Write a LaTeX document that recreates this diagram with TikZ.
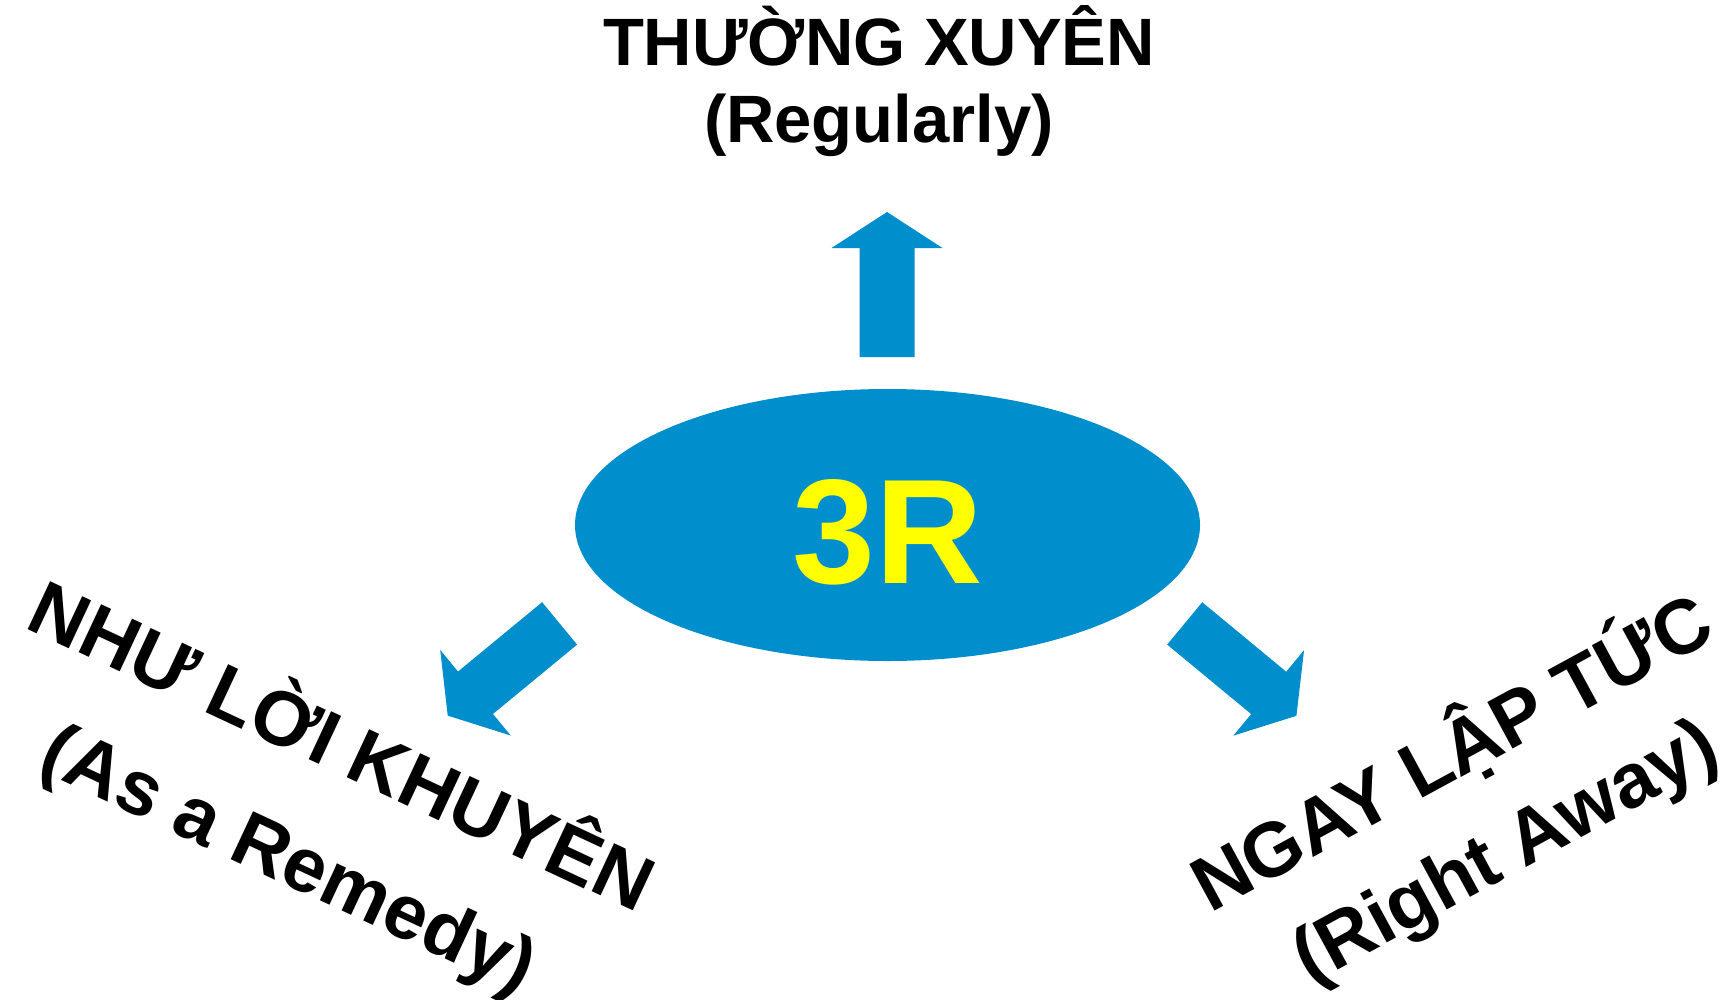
\documentclass[tikz,border=0pt]{standalone}
\usepackage{fontspec}
\setmainfont{Liberation Sans}
\usetikzlibrary{shapes.geometric}

\definecolor{capblue}{RGB}{0,142,204}
\definecolor{capyellow}{RGB}{255,255,0}

% block arrow: tail point, direction
\newcommand{\blockarrow}[2]{%
  \fill[capblue,shift={(#1)},rotate=#2] (0,27.5) -- (109,27.5) -- (109,55.5) -- (145,0)
    -- (109,-55.5) -- (109,-27.5) -- (0,-27.5) -- cycle;}

\begin{document}
\begin{tikzpicture}[x=1pt,y=-1pt,
    word/.style={inner sep=0pt,align=center,text=black},
    big/.style={font=\fontsize{67}{77}\selectfont\bfseries},
    slant/.style={font=\fontsize{77}{#1}\selectfont\bfseries}]

  \useasboundingbox (0,0) rectangle (1724,999);

  \node[ellipse,fill=capblue,minimum width=625pt,minimum height=272pt,inner sep=0pt,
        text=capyellow,text height=117pt,text depth=0pt,
        font=\fontsize{149}{170}\selectfont\bfseries] (core) at (887.5,525) {3R};

  \node[word,big] (regular) at (879,81) {THƯỜNG XUYÊN\\(Regularly)};
  \node[word,slant=123,rotate=-25] (remedy) at (316,802) {NHƯ LỜI KHUYÊN\\(As a Remedy)};
  \node[word,slant=110,rotate=28.5] (away) at (1478,801) {NGAY LẬP TỨC\\(Right Away)};

  \coordinate (uptail) at (887,357);
  \coordinate (lefttail) at (559.6,623.4);
  \coordinate (righttail) at (1184.7,623.4);

  \blockarrow{uptail}{90}
  \blockarrow{lefttail}{219.5}
  \blockarrow{righttail}{-39.6}

\end{tikzpicture}
\end{document}
